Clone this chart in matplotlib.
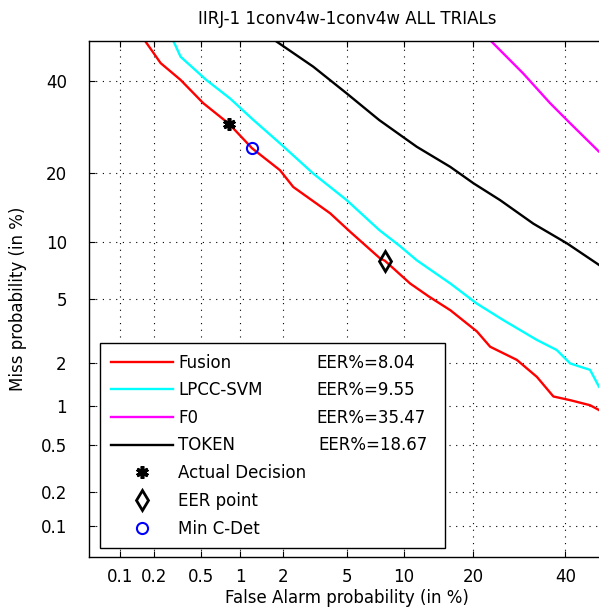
import numpy as np
import matplotlib
matplotlib.use('Agg')
import matplotlib.pyplot as plt
from statistics import NormalDist

# DET curves, values in % (false alarm, miss)
fusion_fa = [0.17, 0.23, 0.34, 0.52, 0.83, 1.22, 1.91, 2.34, 3.98, 5.2, 7.5, 8.04, 10.7, 13.1,
             16.2, 20.7, 23.2, 28.7, 33.2, 37.1, 41.2, 46.2, 48.5, 50]
fusion_miss = [49.8, 44.4, 40.2, 34.6, 29.8, 24.7, 20.5, 17.6, 13.6, 11.2, 8.35, 8.04, 6.1, 5.15,
               4.3, 3.2, 2.56, 2.1, 1.61, 1.17, 1.10, 1.01, 0.93, 0.85]

lpcc_fa = [0.30, 0.34, 0.55, 0.84, 1.25, 1.91, 3.14, 4.98, 7.5, 9.55, 11.5, 16.2, 20.7, 25.8,
           33.2, 37.9, 41.2, 43.7, 46.2, 48.5, 50]
lpcc_miss = [49.6, 46.0, 40.2, 35.7, 30.7, 25.7, 19.9, 15.5, 11.4, 9.55, 8.1, 6.1, 4.7, 3.76,
             2.83, 2.44, 1.99, 1.89, 1.80, 1.37, 1.25]

f0_fa = [23.5, 30.1, 36.3, 41.2, 48.5, 50]
f0_miss = [49.8, 41.8, 34.6, 30.0, 24.0, 23.2]

token_fa = [1.82, 3.14, 4.98, 7.5, 11.5, 16.2, 20.1, 25.2, 32.4, 40.4, 48.5, 50]
token_miss = [49.8, 43.5, 36.9, 30.7, 25.0, 21.1, 18.2, 15.5, 12.2, 9.85, 7.66, 7.3]

actual_pt = (0.83, 29.8)
eer_pt = (8.04, 8.04)
mincdet_pt = (1.22, 24.7)

names = ['Fusion', 'LPCC-SVM', 'F0', 'TOKEN']
eers = ['EER%=8.04', 'EER%=9.55', 'EER%=35.47', 'EER%=18.67']

ticks = [0.1, 0.2, 0.5, 1, 2, 5, 10, 20, 40]
tick_labels = ['0.1', '0.2', '0.5', '1', '2', '5', '10', '20', '40']

# normal deviate scale
_nd = NormalDist()
_ppf = np.vectorize(_nd.inv_cdf, otypes=[float])
_cdf = np.vectorize(_nd.cdf, otypes=[float])


def probit(p):
    p = np.clip(np.asarray(p, dtype=float) / 100.0, 1e-9, 1 - 1e-9)
    return _ppf(p)


def inv_probit(z):
    return _cdf(np.asarray(z, dtype=float)) * 100.0


W, H = 599, 612
fig = plt.figure(figsize=(W / 100, H / 100), dpi=100)
ax = fig.add_axes([89 / W, 55 / H, 516 / W, 516 / H])
ax.set_xscale('function', functions=(probit, inv_probit))
ax.set_yscale('function', functions=(probit, inv_probit))

fs = 12
ax.plot(fusion_fa, fusion_miss, color='red', lw=1.7, label=names[0])
ax.plot(lpcc_fa, lpcc_miss, color='cyan', lw=1.7, label=names[1])
ax.plot(f0_fa, f0_miss, color='magenta', lw=1.7, label=names[2])
ax.plot(token_fa, token_miss, color='black', lw=1.7, label=names[3])

ax.plot(*actual_pt, ls='none', marker=(6, 2, 0), ms=9, mew=2.6, color='black', label='Actual Decision')
ax.plot(*eer_pt, ls='none', marker='d', ms=10, mew=2, mfc='none', mec='black', label='EER point')
ax.plot(*mincdet_pt, ls='none', marker='o', ms=8, mew=1.5, mfc='none', mec='blue', label='Min C-Det')

ax.set_xlim(0.05, 50)
ax.set_ylim(0.05, 50)
ax.set_xticks(ticks)
ax.set_xticklabels(tick_labels)
ax.set_yticks(ticks)
ax.set_yticklabels(tick_labels)
ax.tick_params(direction='in', length=4, top=True, right=True, labelsize=fs, colors='black')
ax.tick_params(axis='x', pad=8)
ax.tick_params(axis='y', pad=16)
ax.grid(True, color='black', lw=0.8, linestyle=(0, (1, 5)))
for s in ax.spines.values():
    s.set_linewidth(1.0)

ax.set_title('IIRJ-1 1conv4w-1conv4w ALL TRIALs', fontsize=fs, pad=12)
ax.set_xlabel('False Alarm probability (in %)', fontsize=fs, labelpad=2)
ax.set_ylabel('Miss probability (in %)', fontsize=fs, labelpad=10)

leg = ax.legend(loc='lower left', bbox_to_anchor=(11 / 516, 9 / 516, 345 / 516, 0.4),
                mode='expand', fontsize=fs, handlelength=3.75, handletextpad=0.3,
                labelspacing=0.58, borderpad=0.63, borderaxespad=0, fancybox=False,
                edgecolor='black', framealpha=1)
leg.get_frame().set_linewidth(1.0)

fig.canvas.draw()
for txt, eer, x0 in zip(leg.get_texts()[:4], eers, [316, 316, 316, 318]):
    bb = txt.get_window_extent()
    fig.text(x0 / W, bb.y0 / H, eer, fontsize=fs, va='bottom', ha='left')

fig.savefig('out.png', dpi=100)
